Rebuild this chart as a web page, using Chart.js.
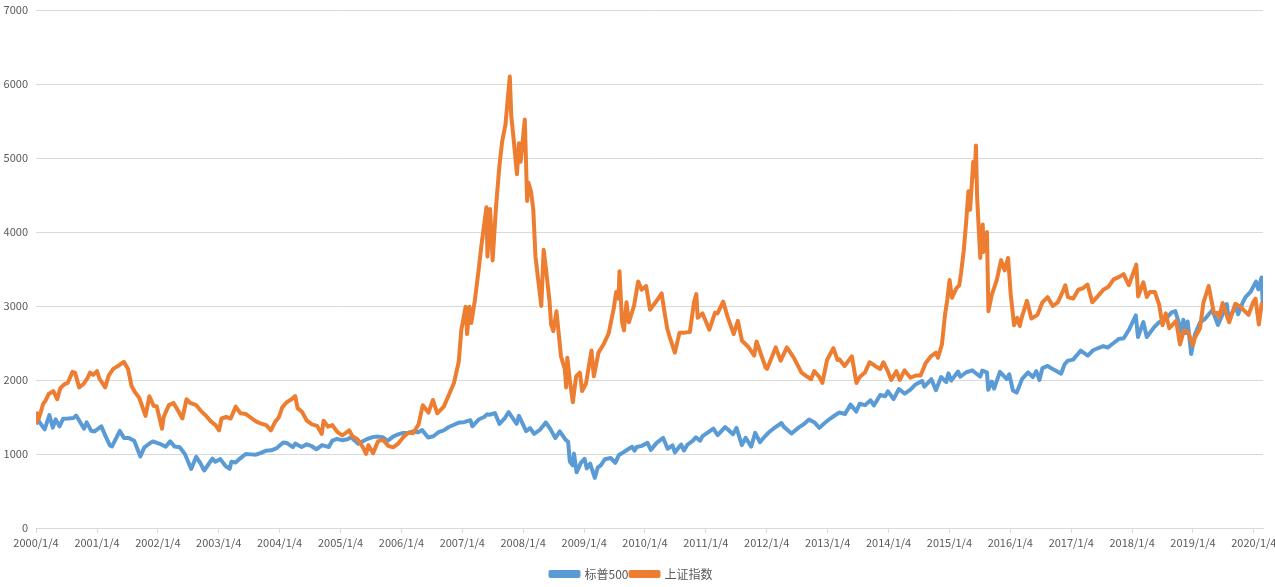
<!DOCTYPE html>
<html><head><meta charset="utf-8">
<script src="https://cdn.jsdelivr.net/npm/chart.js@4.4.1/dist/chart.umd.min.js"></script>
<style>html,body{margin:0;padding:0;background:#fff;}canvas{display:block;}</style>
</head><body>
<canvas id="c" width="1275" height="587"></canvas>
<script>
const seriesNames = ['标普500', '上证指数'];
const tickLabels = ['2000/1/4','2001/1/4','2002/1/4','2003/1/4','2004/1/4','2005/1/4','2006/1/4','2007/1/4','2008/1/4','2009/1/4','2010/1/4','2011/1/4','2012/1/4','2013/1/4','2014/1/4','2015/1/4','2016/1/4','2017/1/4','2018/1/4','2019/1/4','2020/1/4'];
const lastDate = '2020/2/28';

const spDates = [
'2000/1/4','2000/1/14','2000/2/25','2000/3/24','2000/4/14','2000/5/1','2000/5/24','2000/6/15','2000/7/15','2000/8/15','2000/9/1','2000/9/20','2000/10/18','2000/11/3','2000/11/30','2000/12/20',
'2001/1/30','2001/2/22','2001/3/22','2001/4/4','2001/5/21','2001/6/15','2001/7/15','2001/8/15','2001/9/21','2001/10/15','2001/11/15','2001/12/5',
'2002/1/15','2002/2/20','2002/3/19','2002/4/15','2002/5/15','2002/6/15','2002/7/23','2002/8/22','2002/9/15','2002/10/9','2002/11/27','2002/12/15',
'2003/1/14','2003/2/15','2003/3/11','2003/3/21','2003/4/15','2003/5/15','2003/6/15','2003/7/15','2003/8/15','2003/9/15','2003/10/15','2003/11/15','2003/12/15',
'2004/1/26','2004/2/15','2004/3/24','2004/4/7','2004/5/15','2004/6/15','2004/7/15','2004/8/12','2004/9/15','2004/10/25','2004/11/15','2004/12/15',
'2005/1/15','2005/2/15','2005/3/7','2005/4/20','2005/5/15','2005/6/15','2005/7/15','2005/8/15','2005/9/15','2005/10/13','2005/11/15','2005/12/15',
'2006/1/15','2006/2/15','2006/3/15','2006/4/15','2006/5/8','2006/6/13','2006/7/15','2006/8/15','2006/9/15','2006/10/15','2006/11/15','2006/12/15',
'2007/1/15','2007/2/22','2007/3/5','2007/4/15','2007/5/15','2007/6/1','2007/6/15','2007/7/19','2007/8/15','2007/9/15','2007/10/9','2007/11/26','2007/12/10',
'2008/1/22','2008/2/15','2008/3/10','2008/4/15','2008/5/19','2008/6/15','2008/7/15','2008/8/11','2008/9/15','2008/9/30','2008/10/10','2008/10/27','2008/11/4','2008/11/20','2008/12/15',
'2009/1/6','2009/1/20','2009/2/9','2009/3/9','2009/3/26','2009/4/15','2009/5/8','2009/6/12','2009/7/10','2009/7/31','2009/8/15','2009/9/15','2009/10/19','2009/11/2','2009/11/15','2009/12/15',
'2010/1/19','2010/2/8','2010/3/15','2010/4/23','2010/5/20','2010/6/18','2010/7/2','2010/8/9','2010/8/26','2010/9/15','2010/10/15','2010/11/5','2010/11/30','2010/12/15',
'2011/1/15','2011/2/18','2011/3/16','2011/4/29','2011/5/15','2011/6/16','2011/7/7','2011/8/8','2011/8/31','2011/10/3','2011/10/27','2011/11/25','2011/12/15',
'2012/1/15','2012/2/15','2012/4/2','2012/4/15','2012/6/1','2012/7/15','2012/8/15','2012/9/14','2012/10/15','2012/11/15','2012/12/15',
'2013/1/15','2013/2/15','2013/3/15','2013/4/18','2013/5/21','2013/6/24','2013/7/15','2013/8/15','2013/9/18','2013/10/8','2013/11/15','2013/12/15','2013/12/31',
'2014/2/3','2014/3/7','2014/4/11','2014/5/15','2014/6/15','2014/7/24','2014/8/7','2014/9/18','2014/10/15','2014/11/15','2014/12/16','2014/12/29',
'2015/1/15','2015/2/25','2015/3/10','2015/4/15','2015/5/21','2015/6/15','2015/7/8','2015/7/20','2015/8/17','2015/8/25','2015/9/15','2015/9/29','2015/11/3','2015/12/14','2015/12/29',
'2016/1/20','2016/2/11','2016/3/15','2016/4/20','2016/5/19','2016/6/8','2016/6/27','2016/7/15','2016/8/15','2016/9/15','2016/11/4','2016/11/25','2016/12/15',
'2017/1/15','2017/3/1','2017/4/13','2017/5/15','2017/6/15','2017/7/15','2017/8/10','2017/9/15','2017/10/15','2017/11/15','2017/12/15',
'2018/1/26','2018/2/8','2018/3/12','2018/4/2','2018/5/15','2018/6/15','2018/7/15','2018/8/29','2018/9/20','2018/10/29','2018/11/7','2018/11/23','2018/12/3','2018/12/24',
'2019/1/15','2019/2/15','2019/3/15','2019/4/30','2019/6/3','2019/7/26','2019/8/5','2019/8/15','2019/9/15','2019/10/2','2019/10/28','2019/11/15','2019/12/15',
'2020/1/17','2020/1/31','2020/2/19','2020/2/28'
];
const spValues = [
1399,1465,1333,1527,1356,1468,1373,1478,1480,1485,1520,1450,1342,1428,1315,1305,
1373,1252,1117,1103,1312,1215,1215,1180,966,1090,1142,1170,
1138,1100,1170,1100,1090,1000,797,962,880,777,938,895,
931,834,800,895,885,945,1000,995,990,1015,1045,1050,1075,
1155,1150,1092,1140,1095,1130,1105,1064,1120,1095,1180,1205,
1185,1200,1225,1138,1170,1205,1228,1235,1225,1177,1235,1265,
1285,1285,1305,1295,1325,1223,1240,1295,1320,1365,1395,1425,
1430,1457,1375,1470,1500,1536,1530,1553,1406,1480,1565,1408,1515,
1310,1350,1273,1330,1426,1340,1215,1305,1192,1166,899,848,1005,752,880,
935,805,870,677,815,850,929,946,880,987,1005,1050,1097,1045,1095,1110,
1150,1056,1150,1217,1071,1117,1022,1127,1047,1125,1175,1225,1180,1240,
1290,1343,1256,1364,1335,1267,1353,1119,1219,1099,1285,1159,1215,
1290,1345,1419,1370,1278,1360,1405,1465,1430,1353,1415,
1472,1520,1560,1541,1669,1573,1680,1660,1725,1656,1798,1780,1848,
1742,1878,1815,1870,1940,1988,1910,2011,1862,2040,1972,2090,
1992,2115,2044,2105,2131,2085,2046,2128,2102,1868,1980,1884,2110,2012,2078,
1859,1829,2015,2102,2040,2119,2000,2161,2190,2147,2085,2213,2262,
2275,2396,2329,2402,2432,2459,2438,2500,2553,2565,2675,
2873,2581,2783,2582,2711,2780,2800,2914,2931,2641,2813,2633,2790,2351,
2610,2775,2822,2946,2744,3025,2845,2850,3005,2888,3039,3120,3190,
3330,3225,3386,2954
];

const shDates = [
'2000/1/4','2000/1/12','2000/1/19','2000/2/1','2000/2/16','2000/3/1','2000/3/20','2000/4/17','2000/5/10','2000/5/29','2000/6/21','2000/7/12','2000/8/10','2000/8/25','2000/9/19','2000/10/17','2000/11/9','2000/11/23','2000/12/12',
'2001/1/4','2001/1/18','2001/2/22','2001/3/15','2001/4/11','2001/5/17','2001/6/14','2001/7/9','2001/7/30','2001/8/21','2001/9/14','2001/10/22','2001/11/14','2001/12/10','2001/12/28',
'2002/1/29','2002/2/8','2002/3/11','2002/4/8','2002/5/9','2002/5/31','2002/6/25','2002/7/16','2002/8/22','2002/9/20','2002/10/18','2002/11/18','2002/12/16',
'2003/1/6','2003/1/21','2003/2/18','2003/3/17','2003/4/16','2003/5/15','2003/6/16','2003/7/16','2003/8/15','2003/9/15','2003/10/16','2003/11/13','2003/12/10','2003/12/31',
'2004/1/20','2004/2/16','2004/3/16','2004/4/7','2004/4/21','2004/5/17','2004/6/16','2004/7/16','2004/8/16','2004/9/13','2004/9/24','2004/10/20','2004/11/16','2004/12/15',
'2005/1/14','2005/2/25','2005/3/16','2005/4/15','2005/5/16','2005/6/6','2005/6/20','2005/7/18','2005/8/16','2005/9/15','2005/10/17','2005/11/15','2005/12/15',
'2006/1/16','2006/2/16','2006/3/15','2006/4/17','2006/5/12','2006/6/15','2006/7/12','2006/8/7','2006/9/15','2006/10/16','2006/11/15','2006/12/14','2006/12/29',
'2007/1/10','2007/1/24','2007/2/2','2007/2/16','2007/2/27','2007/3/20','2007/4/10','2007/4/30','2007/5/29','2007/6/4','2007/6/20','2007/7/5','2007/7/25','2007/8/15','2007/8/31','2007/9/20','2007/10/16','2007/10/25','2007/11/6','2007/11/28','2007/12/10','2007/12/20',
'2008/1/14','2008/1/28','2008/2/4','2008/2/20','2008/3/5','2008/3/18','2008/4/1','2008/4/22','2008/5/6','2008/5/20','2008/6/10','2008/6/20','2008/7/3','2008/7/22','2008/8/18','2008/9/10','2008/9/18','2008/9/25','2008/10/10','2008/10/28','2008/11/17','2008/12/9','2008/12/23',
'2009/1/15','2009/2/17','2009/3/3','2009/3/31','2009/4/30','2009/5/31','2009/6/30','2009/7/15','2009/7/29','2009/8/4','2009/8/19','2009/8/31','2009/9/15','2009/9/29','2009/10/30','2009/11/24','2009/12/15',
'2010/1/11','2010/2/3','2010/3/15','2010/4/14','2010/4/28','2010/5/17','2010/5/31','2010/7/2','2010/7/30','2010/8/30','2010/9/30','2010/10/25','2010/11/8','2010/11/16','2010/12/15',
'2011/1/25','2011/2/28','2011/3/15','2011/4/18','2011/5/15','2011/6/20','2011/7/15','2011/8/9','2011/9/15','2011/10/21','2011/11/4','2011/12/28',
'2012/1/6','2012/2/27','2012/3/28','2012/5/4','2012/6/15','2012/7/31','2012/8/31','2012/9/26','2012/10/15','2012/11/15','2012/12/3','2012/12/31',
'2013/2/7','2013/3/4','2013/3/15','2013/4/15','2013/5/29','2013/6/25','2013/7/15','2013/8/15','2013/9/12','2013/10/15','2013/11/15','2013/12/4','2013/12/31',
'2014/1/20','2014/2/20','2014/3/12','2014/4/10','2014/5/15','2014/6/15','2014/7/15','2014/8/15','2014/9/15','2014/10/15','2014/10/27','2014/11/20','2014/12/9','2014/12/22',
'2015/1/5','2015/1/19','2015/2/15','2015/3/4','2015/3/15','2015/3/31','2015/4/15','2015/4/28','2015/5/8','2015/5/27','2015/6/5','2015/6/12','2015/6/19','2015/7/8','2015/7/23','2015/7/27','2015/8/17','2015/8/26','2015/9/15','2015/10/15','2015/11/10','2015/12/1','2015/12/22',
'2016/1/7','2016/1/27','2016/2/15','2016/3/1','2016/3/15','2016/4/13','2016/5/10','2016/6/15','2016/7/15','2016/8/15','2016/9/15','2016/10/15','2016/11/15','2016/11/29','2016/12/15',
'2017/1/16','2017/2/15','2017/3/15','2017/4/11','2017/5/10','2017/6/15','2017/7/15','2017/8/15','2017/9/15','2017/10/15','2017/11/14','2017/12/15',
'2018/1/29','2018/2/9','2018/3/12','2018/4/2','2018/4/20','2018/5/20','2018/6/15','2018/7/5','2018/7/25','2018/8/15','2018/9/25','2018/10/18','2018/11/10','2018/12/5',
'2019/1/3','2019/1/15','2019/2/15','2019/3/8','2019/4/8','2019/5/10','2019/5/30','2019/6/10','2019/7/1','2019/7/15','2019/8/9','2019/9/15','2019/10/15','2019/11/15','2019/12/3','2019/12/31',
'2020/1/14','2020/2/3','2020/2/20','2020/2/28'
];
const shValues = [
1406,1550,1470,1560,1680,1720,1810,1850,1740,1890,1940,1960,2110,2100,1900,1950,2030,2100,2070,
2120,2020,1900,2060,2150,2200,2245,2150,1920,1830,1760,1514,1780,1650,1646,
1340,1500,1660,1690,1570,1480,1740,1690,1660,1580,1520,1440,1390,
1320,1480,1500,1480,1640,1550,1540,1490,1440,1410,1390,1320,1440,1497,
1630,1700,1740,1783,1620,1570,1450,1400,1380,1270,1450,1370,1390,1300,
1250,1320,1240,1200,1100,1000,1120,1010,1170,1190,1110,1090,1140,
1230,1290,1280,1400,1660,1560,1730,1550,1640,1800,1960,2250,2675,
2820,2990,2620,2990,2770,3070,3450,3840,4335,3670,4310,3615,4330,4900,5220,5450,6100,5560,5300,4780,5200,4950,
5520,4420,4670,4550,4300,3670,3400,3000,3760,3500,3070,2750,2660,2930,2320,2150,1900,2300,2000,1700,2050,2100,1850,
1950,2400,2050,2370,2480,2630,2960,3190,3100,3470,2790,2670,3050,2780,3000,3330,3220,
3270,2950,3070,3170,2960,2700,2590,2370,2640,2640,2650,3050,3160,2840,2900,
2680,2910,2900,3060,2850,2620,2800,2530,2450,2330,2520,2170,
2150,2440,2260,2440,2300,2100,2050,2010,2120,2040,1960,2270,
2430,2270,2280,2190,2320,1960,2040,2100,2240,2190,2150,2240,2116,
2000,2120,2000,2130,2030,2060,2060,2230,2320,2370,2300,2480,2890,3080,
3350,3110,3240,3280,3450,3750,4150,4550,4300,4950,4750,5170,4480,3650,4100,3730,4000,2930,3150,3350,3620,3480,3650,
3150,2740,2840,2730,2860,3070,2830,2880,3050,3120,3000,3050,3200,3280,3120,
3100,3220,3240,3290,3050,3140,3220,3260,3360,3390,3430,3280,
3560,3130,3320,3120,3190,3190,3020,2740,2900,2700,2800,2480,2670,2650,
2470,2570,2700,3050,3270,2900,2910,2850,3040,2940,2780,3030,2990,2920,2880,3050,
3100,2750,3030,2990
];

function toX(s) { const p = s.split('/').map(Number); return Date.UTC(p[0], p[1] - 1, p[2]); }
function points(dates, values) { return dates.map((d, i) => ({ x: toX(d), y: values[i] })); }
if (spDates.length !== spValues.length) console.error('sp length mismatch', spDates.length, spValues.length);
if (shDates.length !== shValues.length) console.error('sh length mismatch', shDates.length, shValues.length);

const FONT = "'Noto Sans CJK SC','Noto Sans',sans-serif";
const tickValues = tickLabels.map(toX);

new Chart(document.getElementById('c'), {
  type: 'line',
  data: {
    datasets: [
      { label: seriesNames[0], data: points(spDates, spValues), borderColor: '#5B9BD5', backgroundColor: '#5B9BD5',
        borderWidth: 4, pointRadius: 0, tension: 0, borderJoinStyle: 'round', order: 1 },
      { label: seriesNames[1], data: points(shDates, shValues), borderColor: '#ED7D31', backgroundColor: '#ED7D31',
        borderWidth: 4, pointRadius: 0, tension: 0, borderJoinStyle: 'round', order: 0 }
    ]
  },
  options: {
    responsive: false, animation: false, devicePixelRatio: 1,
    layout: { padding: { top: 10, right: 12, left: 0, bottom: -3 } },
    plugins: {
      legend: { position: 'bottom',
        labels: { boxWidth: 28, boxHeight: 4, padding: 2, color: '#595959', font: { size: 12, family: FONT },
          sort: (a, b) => a.datasetIndex - b.datasetIndex } },
      tooltip: { enabled: false }
    },
    scales: {
      x: { type: 'linear', min: toX(tickLabels[0]), max: toX(lastDate),
        afterBuildTicks: s => { s.ticks = tickValues.map(v => ({ value: v })); },
        ticks: { autoSkip: false, maxRotation: 0, minRotation: 0, padding: 3, color: '#595959', font: { size: 11, family: FONT },
          callback: (v, i) => tickLabels[i] },
        grid: { drawOnChartArea: false, drawTicks: true, tickLength: 5, color: '#D9D9D9' },
        border: { color: '#D9D9D9' },
        afterFit: s => { s.height = 38; s.paddingLeft = 0; s.paddingRight = 0; } },
      y: { min: 0, max: 7000,
        ticks: { stepSize: 1000, padding: 8, color: '#595959', font: { size: 11, family: FONT },
          callback: v => String(v) },
        grid: { color: '#D9D9D9', drawTicks: false },
        border: { display: false },
        afterFit: s => { s.width = 36; s.paddingTop = 0; s.paddingBottom = 0; } }
    }
  }
});
</script>
</body></html>
